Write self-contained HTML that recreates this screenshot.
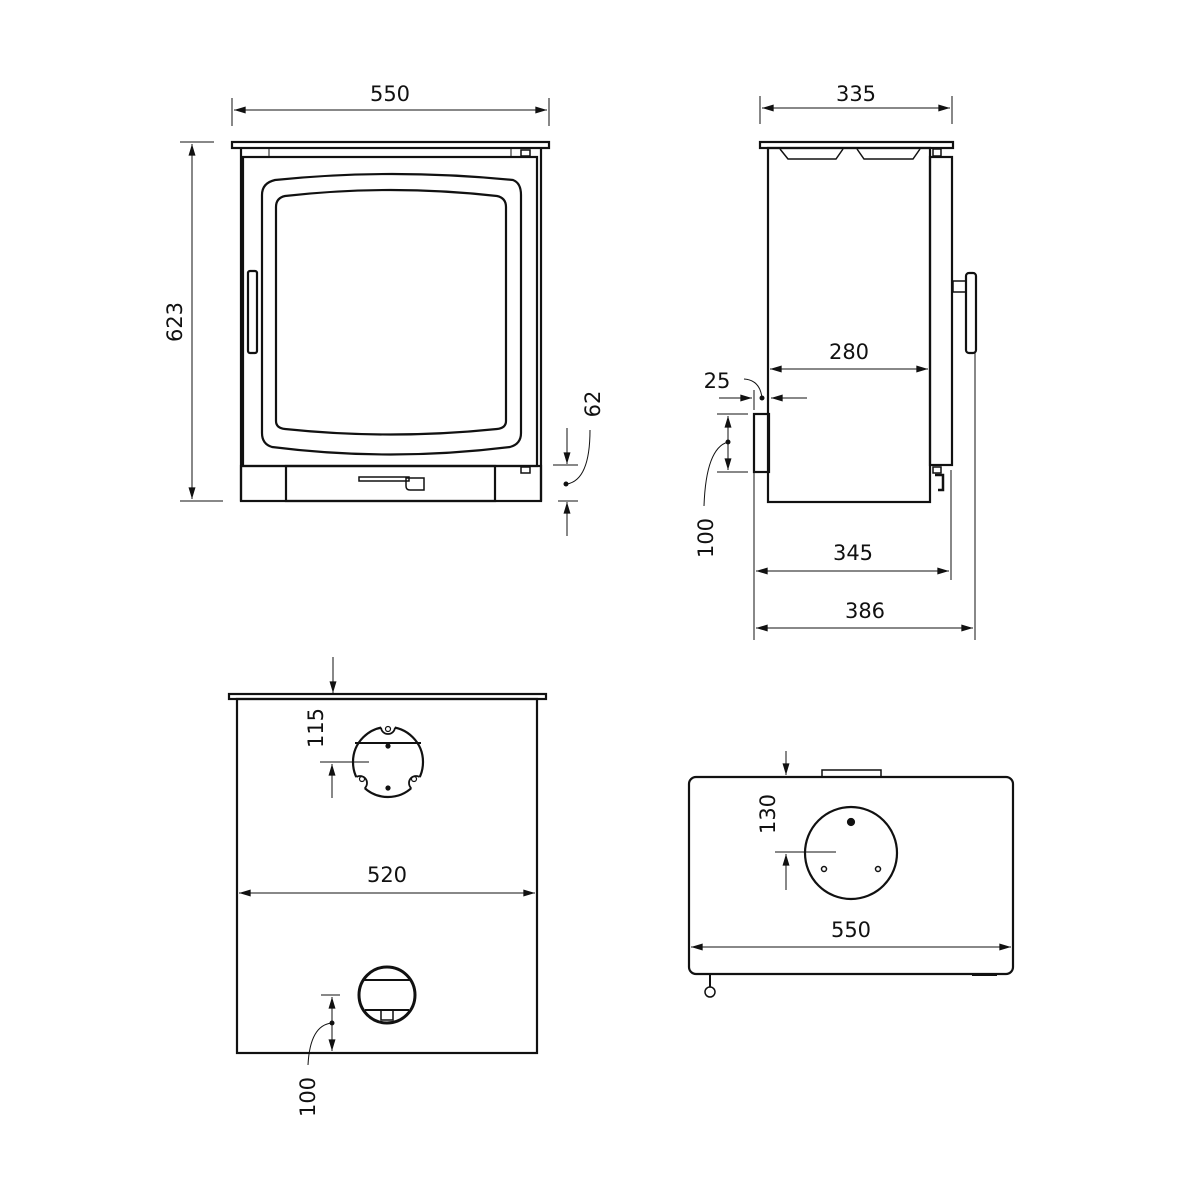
<!DOCTYPE html>
<html><head><meta charset="utf-8"><style>
html,body{margin:0;padding:0;background:#fff}
svg{display:block}
text{font-family:"DejaVu Sans","Liberation Sans",sans-serif;font-size:21px;fill:#111}
</style></head><body>
<svg width="1200" height="1200" viewBox="0 0 1200 1200" xmlns="http://www.w3.org/2000/svg">
<defs>
<marker id="a" viewBox="0 0 10 6" refX="10" refY="3" markerWidth="17" markerHeight="7" markerUnits="userSpaceOnUse" orient="auto-start-reverse"><path d="M0,0L10,3L0,6z" fill="#111"/></marker>
<clipPath id="fc"><circle cx="388" cy="762" r="35"/></clipPath>
</defs>
<g fill="none" stroke="#111" stroke-width="2.2">
<!-- FRONT VIEW -->
<rect x="232" y="142" width="317" height="6"/>
<line x1="241" y1="148" x2="241" y2="501"/>
<line x1="541" y1="148" x2="541" y2="501"/>
<line x1="269" y1="148" x2="269" y2="157" stroke-width="1"/>
<line x1="511" y1="148" x2="511" y2="157" stroke-width="1"/>
<rect x="521" y="150" width="9" height="6" stroke-width="1.5"/>
<rect x="243" y="157" width="294" height="309"/>
<rect x="241" y="466" width="300" height="35"/>
<rect x="286" y="466" width="209" height="35"/>
<rect x="521" y="467" width="9" height="6" stroke-width="1.5"/>
<path d="M275,180 Q390,168 513,180 Q521,183 521,195 L521,433 Q521,444 510,447 Q390,462 272,447 Q262,444 262,433 L262,195 Q262,183 275,180Z"/>
<path d="M285,196 Q390,184 497,196 Q506,198 506,207 L506,421 Q506,428 497,429 Q390,440 285,429 Q276,428 276,421 L276,207 Q276,198 285,196Z"/>
<rect x="248" y="271" width="9" height="82" rx="2"/>
<rect x="359" y="477" width="50" height="4" stroke-width="1.5"/>
<path d="M406,478 L424,478 L424,490 L410,490 Q406,490 406,486Z" stroke-width="1.5"/>
<!-- front dims -->
<line x1="232" y1="98" x2="232" y2="126" stroke-width="1"/>
<line x1="549" y1="98" x2="549" y2="126" stroke-width="1"/>
<line x1="234" y1="110" x2="547" y2="110" stroke-width="1" marker-start="url(#a)" marker-end="url(#a)"/>
<line x1="180" y1="142" x2="214" y2="142" stroke-width="1"/>
<line x1="180" y1="501" x2="223" y2="501" stroke-width="1"/>
<line x1="192" y1="144" x2="192" y2="499" stroke-width="1" marker-start="url(#a)" marker-end="url(#a)"/>
<line x1="553" y1="465" x2="578" y2="465" stroke-width="1"/>
<line x1="558" y1="501" x2="578" y2="501" stroke-width="1"/>
<line x1="567" y1="428" x2="567" y2="464" stroke-width="1" marker-end="url(#a)"/>
<line x1="567" y1="536" x2="567" y2="502" stroke-width="1" marker-end="url(#a)"/>
<path d="M567,484 Q590,480 590,430" stroke-width="1"/>
<!-- SIDE VIEW -->
<rect x="760" y="142" width="193" height="6"/>
<rect x="768" y="148" width="162" height="354"/>
<path d="M780,149 L788,159 L836,159 L843,149" stroke-width="1.5"/>
<path d="M857,149 L864,159 L913,159 L920,149" stroke-width="1.5"/>
<rect x="930" y="157" width="22" height="308"/>
<rect x="933" y="149" width="8" height="7" stroke-width="1.5"/>
<rect x="933" y="467" width="8" height="6" stroke-width="1.5"/>
<path d="M935,475 L943,475 L943,490 L938,490" stroke-width="2.5"/>
<rect x="953" y="281" width="13" height="11" stroke-width="1.5"/>
<rect x="966" y="273" width="10" height="80" rx="3"/>
<rect x="754" y="414" width="15" height="58"/>
<!-- side dims -->
<line x1="760" y1="96" x2="760" y2="124" stroke-width="1"/>
<line x1="952" y1="96" x2="952" y2="124" stroke-width="1"/>
<line x1="762" y1="108" x2="950" y2="108" stroke-width="1" marker-start="url(#a)" marker-end="url(#a)"/>
<line x1="770" y1="369" x2="928" y2="369" stroke-width="1" marker-start="url(#a)" marker-end="url(#a)"/>
<line x1="719" y1="398" x2="752" y2="398" stroke-width="1" marker-end="url(#a)"/>
<line x1="807" y1="398" x2="771" y2="398" stroke-width="1" marker-end="url(#a)"/>
<line x1="754" y1="390" x2="754" y2="410" stroke-width="1"/>
<path d="M744,379 Q760,380 762,398" stroke-width="1"/>
<line x1="717" y1="414" x2="748" y2="414" stroke-width="1"/>
<line x1="717" y1="472" x2="748" y2="472" stroke-width="1"/>
<line x1="728" y1="416" x2="728" y2="470" stroke-width="1" marker-start="url(#a)" marker-end="url(#a)"/>
<path d="M728,442 Q706,448 704,506" stroke-width="1"/>
<line x1="754" y1="472" x2="754" y2="640" stroke-width="1"/>
<line x1="951" y1="470" x2="951" y2="580" stroke-width="1"/>
<line x1="975" y1="352" x2="975" y2="640" stroke-width="1"/>
<line x1="756" y1="571" x2="949" y2="571" stroke-width="1" marker-start="url(#a)" marker-end="url(#a)"/>
<line x1="756" y1="628" x2="973" y2="628" stroke-width="1" marker-start="url(#a)" marker-end="url(#a)"/>
<!-- TOP/BACK VIEW -->
<rect x="229" y="694" width="317" height="5"/>
<rect x="237" y="699" width="300" height="354"/>
<line x1="333" y1="657" x2="333" y2="693" stroke-width="1" marker-end="url(#a)"/>
<circle cx="388" cy="762" r="35"/>
<line x1="355" y1="743" x2="421" y2="743" stroke-width="2"/>
<circle cx="388" cy="727" r="7" fill="#fff" stroke="none"/>
<circle cx="360" cy="783" r="7" fill="#fff" stroke="none"/>
<circle cx="416" cy="783" r="7" fill="#fff" stroke="none"/>
<g clip-path="url(#fc)" stroke-width="1.8">
<circle cx="388" cy="727" r="7"/>
<circle cx="360" cy="783" r="7"/>
<circle cx="416" cy="783" r="7"/>
</g>
<circle cx="388" cy="729" r="2.5" stroke-width="1.2"/>
<circle cx="362" cy="779" r="2.5" stroke-width="1.2"/>
<circle cx="414" cy="779" r="2.5" stroke-width="1.2"/>
<circle cx="388" cy="746" r="1.5" fill="#111"/>
<circle cx="388" cy="788" r="1.5" fill="#111"/>
<line x1="320" y1="762" x2="369" y2="762" stroke-width="1"/>
<line x1="332" y1="798" x2="332" y2="764" stroke-width="1" marker-end="url(#a)"/>
<line x1="239" y1="893" x2="535" y2="893" stroke-width="1" marker-start="url(#a)" marker-end="url(#a)"/>
<circle cx="387" cy="995" r="28" stroke-width="3"/>
<line x1="362" y1="980" x2="412" y2="980" stroke-width="2"/>
<line x1="365" y1="1010" x2="409" y2="1010" stroke-width="2"/>
<rect x="381" y="1010" width="12" height="10" stroke-width="1.5"/>
<line x1="321" y1="995" x2="340" y2="995" stroke-width="1"/>
<line x1="332" y1="997" x2="332" y2="1051" stroke-width="1" marker-start="url(#a)" marker-end="url(#a)"/>
<path d="M332,1023 Q310,1025 308,1065" stroke-width="1"/>
<!-- BOTTOM VIEW -->
<rect x="689" y="777" width="324" height="197" rx="7"/>
<rect x="822" y="770" width="59" height="7" stroke-width="1.5"/>
<circle cx="851" cy="853" r="46"/>
<circle cx="851" cy="822" r="3" fill="#111"/>
<circle cx="824" cy="869" r="2.5" stroke-width="1.5"/>
<circle cx="878" cy="869" r="2.5" stroke-width="1.5"/>
<line x1="775" y1="852" x2="836" y2="852" stroke-width="1"/>
<line x1="786" y1="890" x2="786" y2="854" stroke-width="1" marker-end="url(#a)"/>
<line x1="786" y1="751" x2="786" y2="775" stroke-width="1" marker-end="url(#a)"/>
<line x1="691" y1="947" x2="1011" y2="947" stroke-width="1" marker-start="url(#a)" marker-end="url(#a)"/>
<line x1="710" y1="974" x2="710" y2="987" stroke-width="2"/>
<circle cx="710" cy="992" r="5" stroke-width="1.5"/>
<line x1="972" y1="975" x2="997" y2="975" stroke-width="2"/>
</g>
<g fill="#111">
<circle cx="566" cy="484" r="2.5"/>
<circle cx="762" cy="398" r="2.5"/>
<circle cx="728" cy="442" r="2.5"/>
<circle cx="332" cy="1023" r="2.5"/>
</g>
<text x="390" y="101" text-anchor="middle">550</text>
<text transform="translate(182,322) rotate(-90)" text-anchor="middle">623</text>
<text transform="translate(600,404) rotate(-90)" text-anchor="middle">62</text>
<text x="856" y="101" text-anchor="middle">335</text>
<text x="849" y="359" text-anchor="middle">280</text>
<text x="717" y="388" text-anchor="middle">25</text>
<text transform="translate(713,538) rotate(-90)" text-anchor="middle">100</text>
<text x="853" y="560" text-anchor="middle">345</text>
<text x="865" y="618" text-anchor="middle">386</text>
<text transform="translate(323,728) rotate(-90)" text-anchor="middle">115</text>
<text x="387" y="882" text-anchor="middle">520</text>
<text transform="translate(315,1097) rotate(-90)" text-anchor="middle">100</text>
<text transform="translate(775,814) rotate(-90)" text-anchor="middle">130</text>
<text x="851" y="937" text-anchor="middle">550</text>
</svg>
</body></html>
